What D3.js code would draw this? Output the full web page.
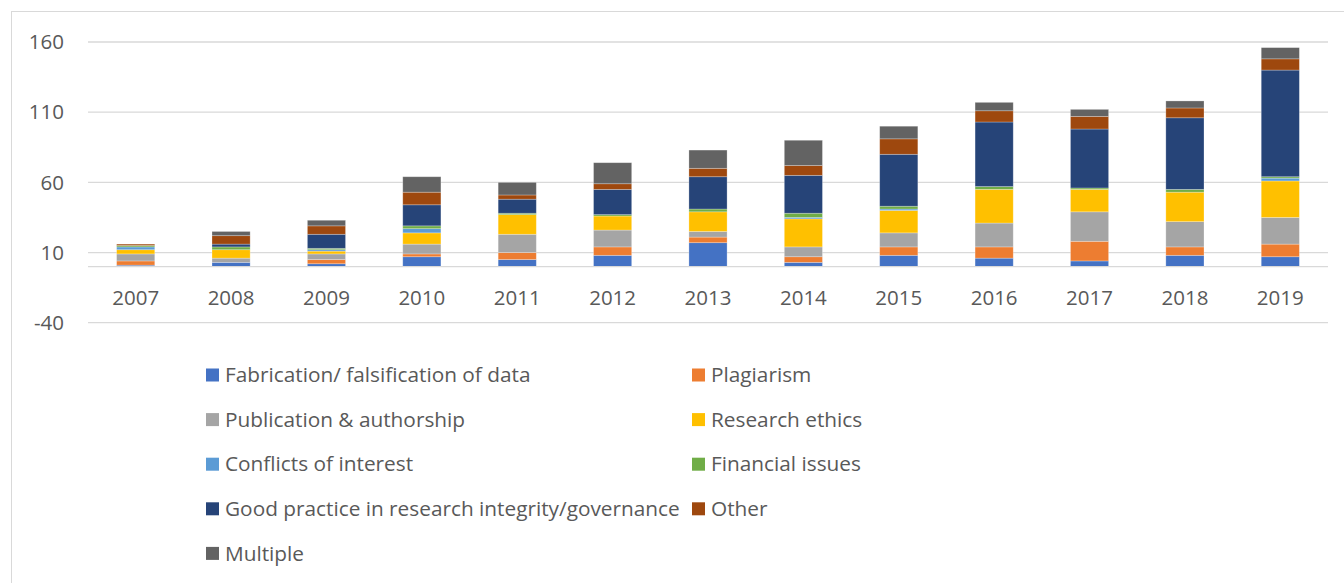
<!DOCTYPE html>
<html>
<head>
<meta charset="utf-8">
<script src="https://cdn.jsdelivr.net/npm/d3@7"></script>
<style>
  body { margin: 0; background: #fff; }
  svg { display: block; font-family: "Open Sans", Lato, sans-serif; }
</style>
</head>
<body>
<svg width="1344" height="583"></svg>
<script>
// data (counts per year)
var years = ["2007","2008","2009","2010","2011","2012","2013","2014","2015","2016","2017","2018","2019"];
var fabrication  = [1, 3, 2, 7, 5, 8, 17, 3, 8, 6, 4, 8, 7];
var plagiarism   = [3, 0, 3, 2, 5, 6, 4, 4, 6, 8, 14, 6, 9];
var publication  = [5, 3, 4, 7, 13, 12, 4, 7, 10, 17, 21, 18, 19];
var ethics       = [3, 6, 2, 8, 14, 10, 14, 20, 16, 24, 16, 21, 26];
var conflicts    = [2, 0, 1, 3, 0, 0, 0, 1, 1, 0, 0, 0, 2];
var financial    = [1, 2, 1, 2, 1, 1, 2, 3, 2, 2, 1, 2, 1];
var goodPractice = [0, 2, 10, 15, 10, 18, 23, 27, 37, 46, 42, 51, 76];
var other        = [1, 6, 6, 9, 3, 4, 6, 7, 11, 8, 9, 7, 8];
var multiple     = [0, 3, 4, 11, 9, 15, 13, 18, 9, 6, 5, 5, 8];
var yTicks = [-40, 10, 60, 110, 160];

var seriesNames = ["Fabrication/ falsification of data", "Plagiarism", "Publication & authorship",
  "Research ethics", "Conflicts of interest", "Financial issues",
  "Good practice in research integrity/governance", "Other", "Multiple"];
var seriesValues = [fabrication, plagiarism, publication, ethics, conflicts, financial, goodPractice, other, multiple];
var colors = ["#4472C4", "#ED7D31", "#A5A5A5", "#FFC000", "#5B9BD5", "#70AD47", "#264478", "#9E480E", "#636363"];

// rows for d3.stack
var rows = years.map(function(y, i) {
  var r = { year: y };
  seriesNames.forEach(function(n, k) { r[n] = seriesValues[k][i]; });
  return r;
});
var stacked = d3.stack().keys(seriesNames)(rows);

var svg = d3.select("svg");
var textColor = "#595959";
var gridColor = "#D9D9D9";

// chart frame
svg.append("rect")
  .attr("x", 11.5).attr("y", 11.5)
  .attr("width", 1345).attr("height", 590)
  .attr("fill", "none")
  .attr("stroke", gridColor)
  .attr("stroke-width", 1);

var x = d3.scaleBand().domain(years).range([88, 1328]).paddingInner(0.6).paddingOuter(0.3);
var y = d3.scaleLinear().domain([-40, 160]).range([322.7, 42]);

// gridlines
svg.append("g").selectAll("line")
  .data(yTicks)
  .enter().append("line")
  .attr("x1", 88).attr("x2", 1328)
  .attr("y1", function(d) { return y(d); })
  .attr("y2", function(d) { return y(d); })
  .attr("stroke", gridColor)
  .attr("stroke-width", 1.3);

// y labels
svg.append("g").selectAll("text")
  .data(yTicks)
  .enter().append("text")
  .attr("x", 64)
  .attr("y", function(d) { return y(d); })
  .attr("dy", "0.35em")
  .attr("text-anchor", "end")
  .attr("fill", textColor)
  .attr("font-size", 20.5)
  .text(function(d) { return d; });

// stacked bars
svg.append("g").selectAll("g")
  .data(stacked)
  .enter().append("g")
  .attr("fill", function(d, i) { return colors[i]; })
  .selectAll("rect")
  .data(function(d) { return d; })
  .enter().append("rect")
  .attr("x", function(d) { return x(d.data.year); })
  .attr("width", x.bandwidth())
  .attr("y", function(d) { return y(d[1]); })
  .attr("height", function(d) { return y(d[0]) - y(d[1]); })
  .attr("stroke", "#fff")
  .attr("stroke-opacity", 0.35)
  .attr("stroke-width", 0.75);

// zero axis line
svg.append("line")
  .attr("x1", 88).attr("x2", 1328)
  .attr("y1", y(0)).attr("y2", y(0))
  .attr("stroke", gridColor)
  .attr("stroke-width", 1.3);

// x labels
svg.append("g").selectAll("text")
  .data(years)
  .enter().append("text")
  .attr("x", function(d) { return x(d) + x.bandwidth() / 2; })
  .attr("y", 298)
  .attr("dy", "0.35em")
  .attr("text-anchor", "middle")
  .attr("fill", textColor)
  .attr("font-size", 20.5)
  .text(function(d) { return d; });

// legend, two columns
var legend = svg.append("g").selectAll("g")
  .data(seriesNames)
  .enter().append("g")
  .attr("transform", function(d, i) {
    var col = i % 2, row = Math.floor(i / 2);
    return "translate(" + (col === 0 ? 206 : 692) + "," + (375 + row * 44.6) + ")";
  });
legend.append("rect")
  .attr("x", 0).attr("y", -6.5)
  .attr("width", 13).attr("height", 13)
  .attr("fill", function(d, i) { return colors[i]; });
legend.append("text")
  .attr("x", 19)
  .attr("dy", "0.35em")
  .attr("fill", textColor)
  .attr("font-size", 20.8)
  .text(function(d) { return d; });
</script>
</body>
</html>
